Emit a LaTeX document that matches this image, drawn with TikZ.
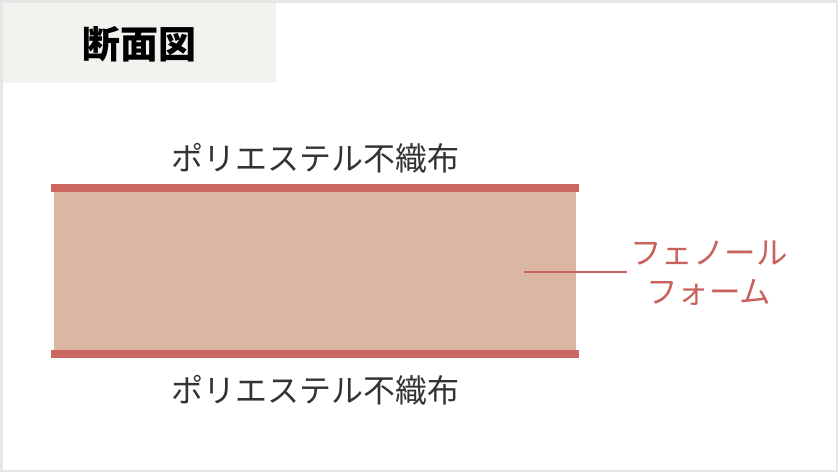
\documentclass[tikz,border=0pt]{standalone}
\usepackage{fontspec}
\newfontfamily\cjk{Noto Sans CJK JP}
\definecolor{frame}{HTML}{E6E6E6}
\definecolor{titlebg}{HTML}{F3F2EE}
\definecolor{sheet}{HTML}{CC6660}
\definecolor{foam}{HTML}{DBB6A2}
\definecolor{txt}{HTML}{333333}
\definecolor{redtxt}{HTML}{C9625D}
\tikzset{
  layerlbl/.style={font=\cjk\fontsize{32}{39}\selectfont, text=txt, inner sep=0pt},
  foamlbl/.style={font=\cjk\fontsize{31.5}{39}\selectfont, text=redtxt, align=center, inner sep=3pt},
  titlelbl/.style={font=\cjk\bfseries\fontsize{38}{40}\selectfont, text=black, inner sep=0pt},
  leader/.style={draw=redtxt, line width=1.5pt},
}
\begin{document}
\begin{tikzpicture}[x=1pt,y=-1pt]
\useasboundingbox (0,0) rectangle (838,472);
\fill[white] (0,0) rectangle (838,472);
\draw[frame, line width=2.5pt] (1.25,1.25) rectangle (836.75,470.75);
\fill[titlebg] (2.5,2.5) rectangle (276,83);
\node[titlelbl] (title) at (139,44) {断面図};
% layers
\fill[sheet] (51,184) rectangle (579,192);
\fill[foam] (54,192) rectangle (576,350);
\fill[sheet] (51,350) rectangle (579,358);
\node[layerlbl] (toplbl) at (315,158) {ポリエステル不織布};
\node[layerlbl] (botlbl) at (315,390) {ポリエステル不織布};
\coordinate (lead) at (524,272);
\node[foamlbl, anchor=west] (foamlbl) at (627,273) {フェノール\\フォーム};
\draw[leader] (lead) -- (lead -| foamlbl.west);
\end{tikzpicture}
\end{document}
